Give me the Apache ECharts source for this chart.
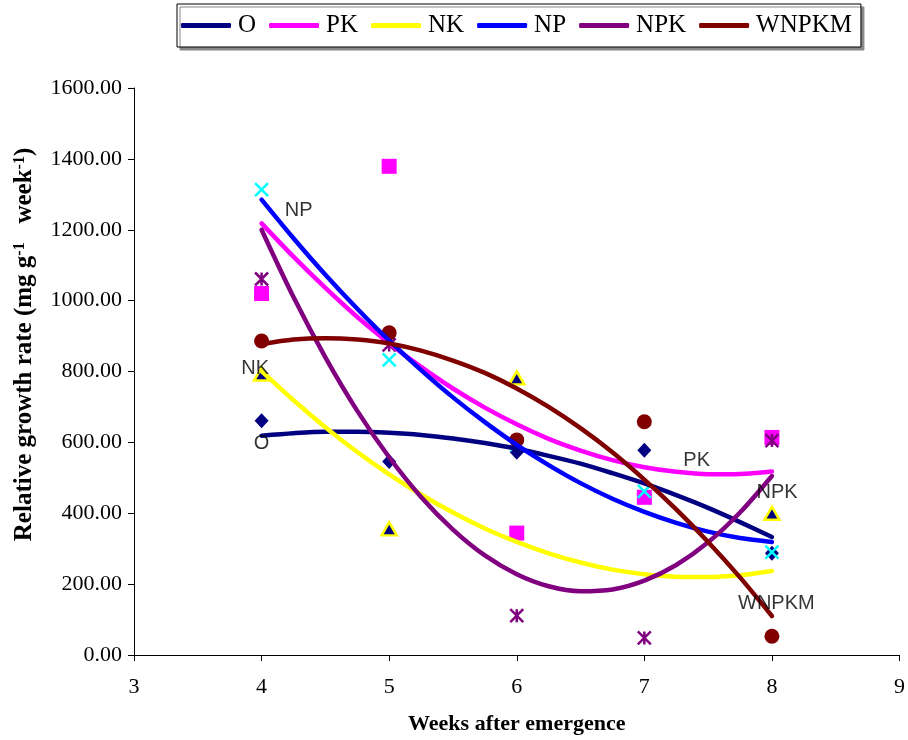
<!DOCTYPE html>
<html>
<head>
<meta charset="utf-8">
<script src="https://cdn.jsdelivr.net/npm/echarts@6/dist/echarts.min.js"></script>
<style>
html,body{margin:0;padding:0;background:#fff;}
#chart{width:908px;height:740px;}
</style>
</head>
<body>
<div id="chart"></div>
<script>
// ---- data ----
const weeks = [4, 5, 6, 7, 8];
const seriesNames = ['O', 'PK', 'NK', 'NP', 'NPK', 'WNPKM'];
const pointsO = [661, 546, 572, 578, 287];
const pointsPK = [1020, 1379, 344, 445, 614];
const pointsNK = [793, 356, 782, null, 400];
const pointsNP = [1313, 833, 595, 462, 290];
const pointsNPK = [1061, 875, 111, 48, 605];
const pointsWNPKM = [886, 909, 607, 658, 53];

// trend curves
const trendWeeks = [4, 4.25, 4.5, 4.75, 5, 5.25, 5.5, 5.75, 6, 6.25, 6.5, 6.75, 7, 7.25, 7.5, 7.75, 8];
const trendO = [619, 626, 630, 630, 627, 621, 611, 598, 582, 562, 540, 513, 484, 451, 415, 375, 333];
const trendPK = [1218, 1124, 1036, 954, 880, 813, 752, 698, 651, 610, 577, 550, 530, 517, 510, 511, 518];
const trendNK = [801, 719, 643, 573, 510, 453, 402, 357, 319, 287, 261, 241, 228, 221, 220, 225, 237];
const trendNP = [1285, 1176, 1073, 977, 887, 804, 727, 657, 593, 536, 485, 441, 404, 373, 348, 330, 319];
const trendNPK = [1200, 1010, 840, 689, 558, 446, 354, 281, 228, 194, 180, 185, 210, 254, 318, 402, 505];
const trendWNPKM = [877, 890, 894, 890, 879, 859, 831, 796, 752, 700, 640, 572, 495, 411, 319, 219, 110];

// in-plot series labels (data coordinates)
const labelTexts = ['NP', 'NK', 'O', 'PK', 'NPK', 'WNPKM'];
const labelWeeks = [4.29, 3.95, 4.0, 7.41, 8.04, 8.035];
const labelValues = [1255, 808, 598, 549, 459, 145];

const xTicks = [3, 4, 5, 6, 7, 8, 9];
const yTicks = [0, 200, 400, 600, 800, 1000, 1200, 1400, 1600];

// ---- styles ----
const colors = {
  O: '#000080', PK: '#FF00FF', NK: '#FFFF00', NP: '#0000FF', NPK: '#800080', WNPKM: '#800000'
};
const serif = "'Liberation Serif','Times New Roman',serif";
const sans = "'Liberation Sans',Arial,sans-serif";

const allPoints = {O: pointsO, PK: pointsPK, NK: pointsNK, NP: pointsNP, NPK: pointsNPK, WNPKM: pointsWNPKM};
const allTrends = {O: trendO, PK: trendPK, NK: trendNK, NP: trendNP, NPK: trendNPK, WNPKM: trendWNPKM};

const markerStyle = {
  O: {symbol: 'diamond', symbolSize: [14, 15], itemStyle: {color: '#000080', opacity: 1}},
  PK: {symbol: 'rect', symbolSize: 15, itemStyle: {color: '#FF00FF', opacity: 1}},
  NK: {symbol: 'triangle', symbolSize: [15, 13], itemStyle: {color: '#000080', borderColor: '#FFFF00', borderWidth: 2.5, opacity: 1}},
  NP: {symbol: 'path://M0,0L10,10M10,0L0,10', symbolSize: 13, itemStyle: {color: 'transparent', borderColor: '#00FFFF', borderWidth: 2.5, opacity: 1}},
  NPK: {symbol: 'path://M0,0L10,10M10,0L0,10M5,0L5,10', symbolSize: 13, itemStyle: {color: 'transparent', borderColor: '#800080', borderWidth: 2.5, opacity: 1}},
  WNPKM: {symbol: 'circle', symbolSize: 15, itemStyle: {color: '#800000', opacity: 1}}
};

const series = [];
seriesNames.forEach(function (n) {
  const pts = [];
  weeks.forEach(function (w, i) { if (allPoints[n][i] != null) pts.push([w, allPoints[n][i]]); });
  series.push(Object.assign({
    name: n + ' data', type: 'scatter', z: 2, data: pts, silent: true
  }, markerStyle[n]));
});
seriesNames.forEach(function (n) {
  series.push({
    name: n, type: 'line', z: 3, smooth: 0.3, showSymbol: false, symbol: 'none',
    lineStyle: {color: colors[n], width: 4.5, cap: 'round', join: 'round'},
    itemStyle: {color: colors[n]},
    data: trendWeeks.map(function (w, i) { return [w, allTrends[n][i]]; })
  });
});
series.push({
  name: 'labels', type: 'scatter', z: 4, symbolSize: 0, silent: true,
  data: labelTexts.map(function (t, i) { return {value: [labelWeeks[i], labelValues[i]], name: t}; }),
  label: {show: true, position: 'inside', formatter: '{b}', color: '#000', fontFamily: sans, fontSize: 20}
});

const chart = echarts.init(document.getElementById('chart'), null, {renderer: 'canvas'});
chart.setOption({
  animation: false,
  backgroundColor: '#fff',
  grid: {left: 134, right: 4, top: 88, bottom: 84, containLabel: false},
  legend: {
    data: seriesNames,
    left: 177, top: 4,
    padding: [9, 9, 9, 4],
    itemGap: 13, itemWidth: 50, itemHeight: 5,
    icon: 'roundRect',
    backgroundColor: '#fff',
    borderColor: '#000', borderWidth: 1,
    shadowColor: '#888', shadowOffsetX: 3, shadowOffsetY: 3, shadowBlur: 0,
    textStyle: {fontFamily: serif, fontSize: 25, color: '#000', padding: [0, 0, 0, 2]},
    selectedMode: false
  },
  xAxis: {
    type: 'value', min: xTicks[0], max: xTicks[xTicks.length - 1], interval: 1,
    name: 'Weeks after emergence', nameLocation: 'middle', nameGap: 58,
    nameTextStyle: {fontFamily: serif, fontSize: 22, fontWeight: 'bold', color: '#000'},
    axisLine: {show: true, onZero: false, lineStyle: {color: '#000', width: 1}},
    axisTick: {show: true, length: 6, lineStyle: {color: '#000'}},
    axisLabel: {fontFamily: serif, fontSize: 22, color: '#000', margin: 21},
    splitLine: {show: false}
  },
  yAxis: {
    type: 'value', min: yTicks[0], max: yTicks[yTicks.length - 1], interval: 200,
    name: '{b|Relative growth rate (mg g}{s|-1}{b|   week}{s|-1}{b|)}',
    nameLocation: 'middle', nameGap: 97, nameRotate: 90,
    nameTextStyle: {
      padding: [0, 0, 0, 54],
      rich: {
        b: {fontFamily: serif, fontSize: 25, fontWeight: 'bold', color: '#000'},
        s: {fontFamily: serif, fontSize: 16, fontWeight: 'bold', color: '#000', verticalAlign: 'top'}
      }
    },
    axisLine: {show: true, lineStyle: {color: '#000', width: 1}},
    axisTick: {show: true, length: 6, lineStyle: {color: '#000'}},
    axisLabel: {fontFamily: serif, fontSize: 22, color: '#000', margin: 12,
      formatter: function (v) { return v.toFixed(2); }},
    splitLine: {show: false}
  },
  series: series
});
</script>
</body>
</html>
